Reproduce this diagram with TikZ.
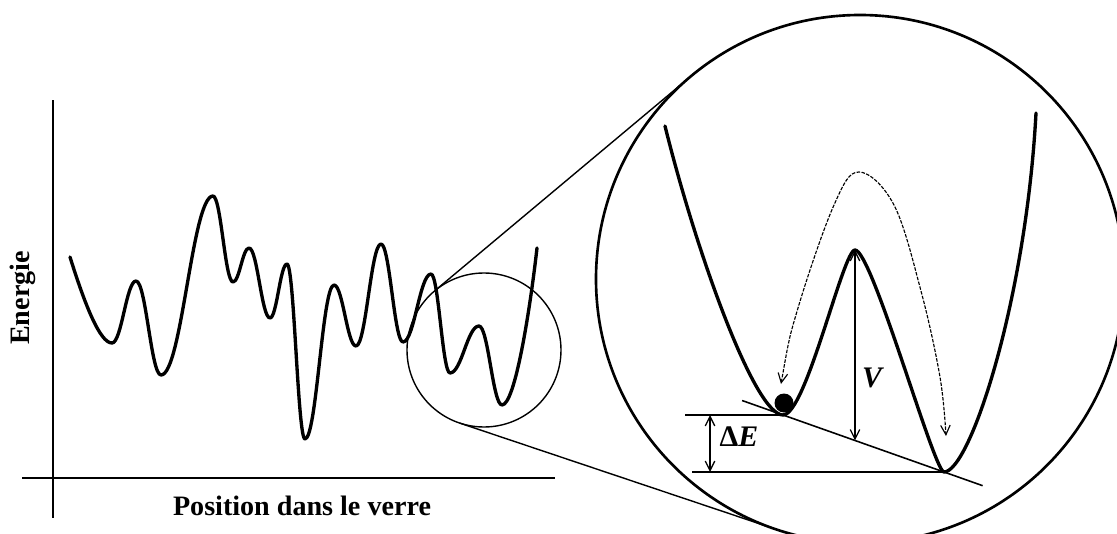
\documentclass[tikz,border=0pt]{standalone}
\usepackage{fontspec}
\setmainfont{Liberation Serif}
\usetikzlibrary{
  arrows.meta,
  calc
}
\tikzset{
  energyCurve/.style={
    line width=1.9pt,
    line cap=round,
    line join=round
  },
  axisLine/.style={line width=1.1pt},
  lensSmall/.style={line width=0.8pt},
  lensBig/.style={line width=1.5pt},
  zoomLine/.style={line width=0.8pt},
  levelLine/.style={line width=1.1pt},
  slopeLine/.style={line width=0.9pt},
  dimArrow/.style={
    {Straight Barb[length=1.9mm,width=1.9mm]}-{Straight Barb[length=1.9mm,width=1.9mm]},
    line width=0.75pt
  },
  hopArrow/.style={
    {Straight Barb[length=1.9mm,width=1.9mm]}-{Straight Barb[length=1.9mm,width=1.9mm]},
    line width=0.65pt,
    dash pattern=on 2pt off 0.8pt
  },
  axisLabel/.style={
    font=\fontsize{16}{19}\selectfont\bfseries,
    inner sep=0pt
  },
  symLabel/.style={
    font=\fontsize{17}{20}\selectfont\bfseries,
    inner sep=0pt
  }
}

\begin{document}
\begin{tikzpicture}[x=0.02cm, y=-0.02cm]
  \useasboundingbox (0,0) rectangle (1117,534);

  % axes
  \coordinate (yTop) at (53,100);
  \coordinate (yBot) at (53,518);
  \coordinate (xLeft) at (22,478);
  \coordinate (xRight) at (555,478);
  \draw[axisLine] (yTop) -- (yBot);
  \draw[axisLine] (xLeft) -- (xRight);
  \node[axisLabel, rotate=90] (yLabel) at (23,298) {Energie};
  \node[axisLabel, anchor=base] (xLabel) at (302,515) {Position dans le verre};

  % rugged landscape
  \draw[energyCurve] (70,257) .. controls (85,305) and (100,343) .. (112,343)
    foreach \x/\y [remember=\x as \lastx (initially 112)] in
      {136/281, 161/375, 213/196, 233/282, 249/248, 270/318, 287/264, 305/439,
       334/285, 356/346, 381/244, 403/342, 431/274, 450/373, 479/326, 502/405}
    { .. controls +({0.4*(\x-\lastx)},0) and +({-0.4*(\x-\lastx)},0) .. (\x,\y) }
    .. controls (515,405) and (530,310) .. (537,248);

  % zoom
  \coordinate (sC) at (484,350);
  \coordinate (bC) at (860,279);
  \draw[lensSmall] (sC) circle[radius=77];
  \draw[lensBig] (bC) circle[radius=264];
  \coordinate (sUp) at ($(sC)+(-129.95:77)$);
  \coordinate (bUp) at ($(bC)+(-129.95:264)$);
  \coordinate (sLo) at ($(sC)+(108.57:77)$);
  \coordinate (bLo) at ($(bC)+(108.57:264)$);
  \draw[zoomLine] (sUp) -- (bUp);
  \draw[zoomLine] (sLo) -- (bLo);

  % double well
  \coordinate (lMin) at (783,415);
  \coordinate (peak) at (855,250);
  \coordinate (rMin) at (944,472);
  \draw[energyCurve] (665,126) .. controls (697,255) and (755,415) .. (lMin)
    .. controls (806,415) and (843,250) .. (peak)
    .. controls (872,250) and (934,472) .. (rMin)
    .. controls (970,472) and (1026,300) .. (1036,113);

  \draw[levelLine] (685,415) -- (lMin);
  \draw[levelLine] (692,472) -- (rMin);
  \draw[slopeLine] ($(lMin)!-0.254!(rMin)$) -- ($(lMin)!1.24!(rMin)$);

  \coordinate (ball) at (784,403);
  \fill (ball) circle[radius=9.5];

  % asymmetry and barrier
  \coordinate (dE) at (710,0);
  \draw[dimArrow] (dE |- lMin) -- (dE |- rMin);
  \node[symLabel] (dELabel) at (739,437) {Δ\textit{E}};

  \coordinate (vFoot) at ($(lMin)!0.447!(rMin)$);
  \draw[dimArrow] (peak) -- (peak |- vFoot);
  \node[symLabel] (vLabel) at (873,378) {\textit{V}};

  % tunnelling path
  \draw[hopArrow] plot[smooth, tension=0.6] coordinates
    {(781,384) (798,308) (834,205) (859,172) (894,205) (921,291) (940,377) (946,436)};
\end{tikzpicture}
\end{document}
